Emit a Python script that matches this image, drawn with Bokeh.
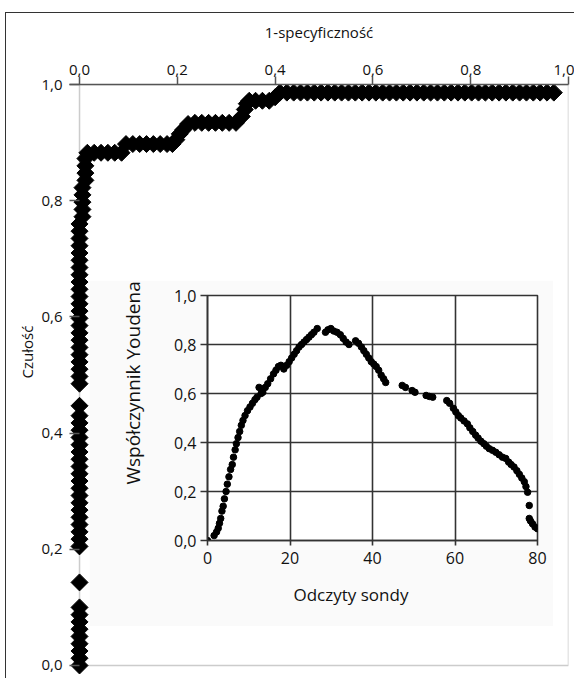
import numpy as np
from bokeh.plotting import figure
from bokeh.models import Range1d, FixedTicker, CustomJSTickFormatter, BoxAnnotation, Title
from bokeh.layouts import column
from bokeh.embed import file_html
from bokeh.resources import INLINE

FONT = "Open Sans"

# ROC curve: 1-specificity (x) vs sensitivity (y)
roc_fpr = [
    0, 0, 0, 0, 0, 0, 0, 0, 0, 0,
    0, 0, 0, 0, 0, 0, 0, 0, 0, 0,
    0, 0, 0, 0, 0, 0, 0, 0, 0, 0,
    0, 0, 0, 0, 0, 0, 0, 0, 0, 0,
    0, 0, 0, 0, 0, 0, 0, 0, 0, 0,
    0, 0, 0, 0.006, 0.006, 0.006, 0.006, 0.006, 0.012, 0.012,
    0.012, 0.012, 0.016, 0.03, 0.044, 0.058, 0.072, 0.086, 0.095, 0.109,
    0.123, 0.137, 0.151, 0.165, 0.179, 0.19, 0.198, 0.205, 0.212, 0.222,
    0.236, 0.25, 0.264, 0.278, 0.292, 0.306, 0.32, 0.332, 0.338, 0.342,
    0.347, 0.36, 0.374, 0.388, 0.4, 0.41, 0.424, 0.438, 0.452, 0.466,
    0.48, 0.494, 0.508, 0.522, 0.536, 0.55, 0.564, 0.578, 0.592, 0.606,
    0.62, 0.634, 0.648, 0.662, 0.676, 0.69, 0.704, 0.718, 0.732, 0.746,
    0.76, 0.774, 0.788, 0.802, 0.816, 0.83, 0.844, 0.858, 0.872, 0.886,
    0.9, 0.914, 0.928, 0.942, 0.956, 0.97,
]
roc_sens = [
    0.0, 0.0125, 0.025, 0.0375, 0.05, 0.0625, 0.075, 0.0875, 0.1, 0.143,
    0.205, 0.2175, 0.23, 0.2425, 0.255, 0.2675, 0.28, 0.2925, 0.305, 0.3175,
    0.33, 0.3425, 0.355, 0.3675, 0.38, 0.3925, 0.405, 0.4175, 0.43, 0.447,
    0.485, 0.4975, 0.51, 0.5225, 0.535, 0.5475, 0.56, 0.5725, 0.585, 0.5975,
    0.61, 0.6225, 0.635, 0.6475, 0.66, 0.6725, 0.685, 0.6975, 0.71, 0.7225,
    0.735, 0.7475, 0.76, 0.7725, 0.785, 0.7975, 0.81, 0.8225, 0.835, 0.8475,
    0.86, 0.8725, 0.8825, 0.8825, 0.8825, 0.8825, 0.8825, 0.8825, 0.8975, 0.8975,
    0.8975, 0.8975, 0.8975, 0.8975, 0.8975, 0.8975, 0.905, 0.915, 0.922, 0.932,
    0.934, 0.934, 0.934, 0.934, 0.934, 0.934, 0.934, 0.945, 0.957, 0.967,
    0.972, 0.972, 0.972, 0.972, 0.978, 0.986, 0.986, 0.986, 0.986, 0.986,
    0.986, 0.986, 0.986, 0.986, 0.986, 0.986, 0.986, 0.986, 0.986, 0.986,
    0.986, 0.986, 0.986, 0.986, 0.986, 0.986, 0.986, 0.986, 0.986, 0.986,
    0.986, 0.986, 0.986, 0.986, 0.986, 0.986, 0.986, 0.986, 0.986, 0.986,
    0.986, 0.986, 0.986, 0.986, 0.986, 0.986,
]

# Inset: Youden index vs probe reading
probe = [
    0, 1.6, 2.2, 2.6, 2.9, 3.2, 3.5, 3.8, 4.1, 4.5,
    4.8, 5.2, 5.6, 6.0, 6.3, 6.7, 7.0, 7.4, 7.8, 8.2,
    8.6, 9.1, 9.7, 10.3, 10.9, 11.5, 12.0, 12.5, 13.0, 13.4,
    14.0, 14.6, 15.3, 16.0, 16.6, 17.2, 17.8, 18.5, 19.2, 19.8,
    20.4, 21.0, 21.6, 22.2, 22.8, 23.4, 24.0, 24.6, 25.2, 25.8,
    26.6, 28.6, 29.2, 29.9, 30.6, 31.4, 32.2, 32.9, 33.6, 34.3,
    35.9, 36.6, 37.3, 37.9, 38.5, 39.1, 39.7, 40.3, 40.9, 41.5,
    42.1, 42.7, 43.2, 47.2, 48.0, 49.6, 50.3, 53.0, 53.8, 54.6,
    58.0, 58.7, 59.6, 60.2, 60.8, 61.4, 62.2, 63.0, 63.6, 64.3,
    65.0, 65.6, 66.3, 67.0, 67.6, 68.3, 69.1, 69.9, 70.7, 71.5,
    72.3, 73.0, 73.6, 74.3, 75.0, 75.6, 76.2, 76.8, 77.2, 77.6,
    78.0, 78.0, 78.3, 78.8, 79.4, 80.0,
]
youden = [
    0.0, 0.02, 0.035, 0.05, 0.07, 0.09, 0.12, 0.14, 0.17, 0.2,
    0.23, 0.26, 0.29, 0.31, 0.34, 0.37, 0.395, 0.42, 0.445, 0.47,
    0.49, 0.51, 0.53, 0.545, 0.56, 0.575, 0.585, 0.625, 0.60, 0.605,
    0.625, 0.64, 0.66, 0.68, 0.695, 0.71, 0.715, 0.70, 0.715, 0.73,
    0.745, 0.76, 0.775, 0.79, 0.80, 0.81, 0.82, 0.83, 0.84, 0.85,
    0.865, 0.85, 0.86, 0.865, 0.855, 0.85, 0.84, 0.825, 0.81, 0.80,
    0.815, 0.805, 0.79, 0.775, 0.76, 0.745, 0.73, 0.72, 0.71, 0.695,
    0.675, 0.66, 0.645, 0.633, 0.625, 0.612, 0.605, 0.592, 0.588, 0.585,
    0.571, 0.56, 0.54, 0.525, 0.51, 0.50, 0.488, 0.476, 0.46, 0.445,
    0.43, 0.418, 0.405, 0.395, 0.385, 0.375, 0.368, 0.36, 0.35, 0.34,
    0.335, 0.32, 0.31, 0.3, 0.285, 0.27, 0.255, 0.24, 0.22, 0.197,
    0.143, 0.09, 0.08, 0.068, 0.055, 0.048,
]

roc_ticks = [0.0, 0.2, 0.4, 0.6, 0.8, 1.0]
inset_x_ticks = [0, 20, 40, 60, 80]
inset_y_ticks = [0.0, 0.2, 0.4, 0.6, 0.8, 1.0]

assert len(roc_fpr) == len(roc_sens)
assert len(probe) == len(youden)

AX = "#555555"
GR = "#333333"
TXT = "#111111"


def comma_fmt():
    return CustomJSTickFormatter(code="return tick.toFixed(1).replace('.', ',');")


# ---------------- main ROC figure ----------------
p = figure(width=574, height=678,
           x_range=Range1d(-0.0205, 1.0), y_range=Range1d(-0.0155, 1.0),
           x_axis_location="above", output_backend="svg", toolbar_location=None,
           min_border_left=69, min_border_right=6, min_border_top=84, min_border_bottom=4)
p.frame_align = False
p.grid.visible = False
p.outline_line_color = None
p.background_fill_color = "white"
p.border_fill_alpha = 0

xa = p.xaxis[0]
xa.ticker = FixedTicker(ticks=roc_ticks)
xa.formatter = comma_fmt()
xa.axis_label = "1-specyficzność"
xa.axis_label_text_font = FONT
xa.axis_label_text_font_style = "normal"
xa.axis_label_text_font_size = "15px"
xa.axis_label_text_color = TXT
xa.axis_label_standoff = 20
xa.major_label_text_font = FONT
xa.major_label_text_font_size = "15px"
xa.major_label_text_color = TXT
xa.major_label_standoff = 2
xa.major_tick_out = 8
xa.major_tick_in = 0
xa.minor_tick_line_color = None
xa.axis_line_color = AX
xa.axis_line_width = 1.5
xa.major_tick_line_color = AX
xa.major_tick_line_width = 1.5

ya = p.yaxis[0]
ya.ticker = FixedTicker(ticks=roc_ticks)
ya.formatter = comma_fmt()
ya.major_label_text_font = FONT
ya.major_label_text_font_size = "15px"
ya.major_label_text_color = TXT
ya.major_label_standoff = 7
ya.major_tick_out = 0
ya.major_tick_in = 10
ya.minor_tick_line_color = None
ya.axis_line_color = None
ya.major_tick_line_color = AX
ya.major_tick_line_width = 1.5

frame_box = BoxAnnotation(left=0, right=1, bottom=0, top=1, fill_color=None,
                          line_color=AX, line_width=1.5, level="underlay")
p.add_layout(frame_box)

p.scatter(roc_fpr, roc_sens, marker="square", angle=np.pi / 4, size=12,
          fill_color="black", line_color="black")

p.add_layout(Title(text="Czułość", align="left", offset=296, standoff=4,
                   text_font=FONT, text_font_size="15px", text_font_style="normal",
                   text_color=TXT), "left")

# ---------------- inset figure ----------------
q = figure(width=464, height=346, x_range=Range1d(0, 80), y_range=Range1d(0, 1.0),
           output_backend="svg", toolbar_location=None,
           min_border_left=118, min_border_right=16, min_border_top=15, min_border_bottom=86)
q.frame_align = False
q.margin = (-398, 0, 0, 89)
q.border_fill_color = "#fafafa"
q.background_fill_color = "white"
q.outline_line_color = GR
q.outline_line_width = 1.6

q.xgrid.ticker = FixedTicker(ticks=inset_x_ticks)
q.ygrid.ticker = FixedTicker(ticks=inset_y_ticks)
q.grid.grid_line_color = GR
q.grid.grid_line_width = 1.6

qx = q.xaxis[0]
qx.ticker = FixedTicker(ticks=inset_x_ticks)
qx.major_label_text_font = FONT
qx.major_label_text_font_size = "16px"
qx.major_label_text_color = TXT
qx.major_label_standoff = 6
qx.major_tick_out = 5
qx.major_tick_in = 0
qx.minor_tick_line_color = None
qx.axis_line_color = GR
qx.axis_line_width = 1.6
qx.major_tick_line_color = GR
qx.major_tick_line_width = 1.6

qy = q.yaxis[0]
qy.ticker = FixedTicker(ticks=inset_y_ticks)
qy.formatter = comma_fmt()
qy.major_label_text_font = FONT
qy.major_label_text_font_size = "16px"
qy.major_label_text_color = TXT
qy.major_label_standoff = 4
qy.major_tick_out = 7
qy.major_tick_in = 0
qy.minor_tick_line_color = None
qy.axis_line_color = GR
qy.axis_line_width = 1.6
qy.major_tick_line_color = GR
qy.major_tick_line_width = 1.6

q.scatter(probe, youden, marker="circle", size=6.5, fill_color="black", line_color="black")

q.add_layout(Title(text="Współczynnik Youdena", align="left", offset=56, standoff=52,
                   text_font=FONT, text_font_size="19px", text_font_style="normal",
                   text_color=TXT), "left")
q.add_layout(Title(text="Odczyty sondy", align="left", offset=86, standoff=28,
                   text_font=FONT, text_font_size="17px", text_font_style="normal",
                   text_color=TXT), "below")

layout = column(p, q, width=574, height=678)
layout.styles = {
    "overflow": "hidden",
    "background": "linear-gradient(#333,#333) 5px 12px / 1.3px 700px no-repeat, "
                  "linear-gradient(#333,#333) 5px 12px / 600px 1.3px no-repeat, white",
}
open("out.html", "w").write(file_html(layout, INLINE))
